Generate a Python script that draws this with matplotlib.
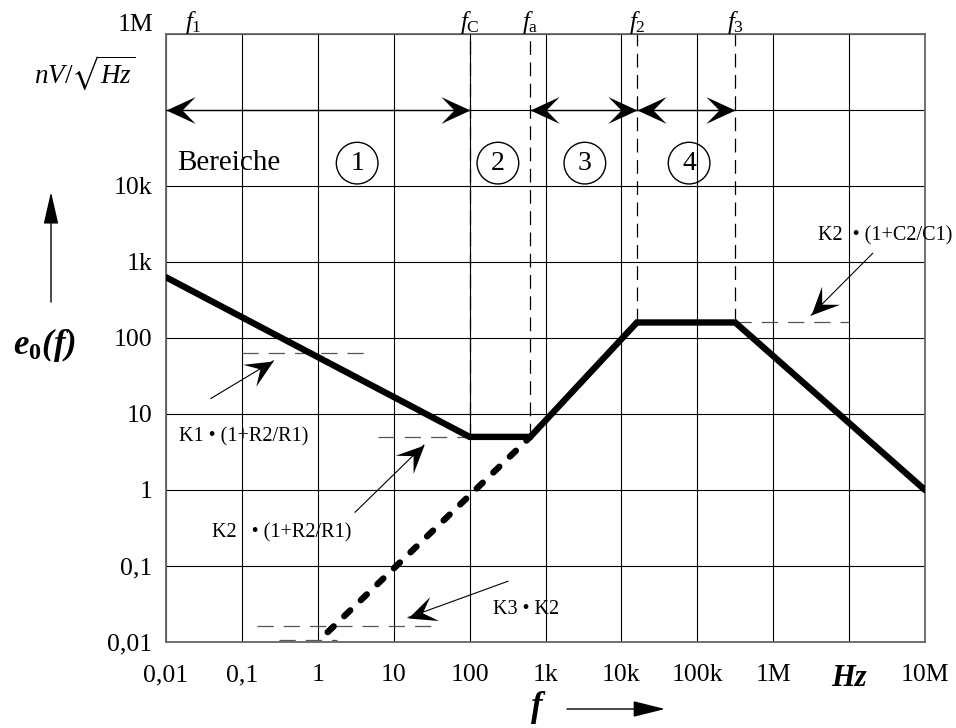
"""Noise density e0(f) sketch: Bereiche 1-4 with corner frequencies (log-log)."""

import matplotlib

matplotlib.use("Agg")
import matplotlib.pyplot as plt
import numpy as np
from matplotlib.markers import MarkerStyle
from matplotlib.path import Path
from matplotlib.transforms import Affine2D

plt.rcParams["font.family"] = ["Liberation Serif", "DejaVu Serif"]
plt.rcParams["mathtext.fontset"] = "custom"
plt.rcParams["mathtext.rm"] = "Liberation Serif"
plt.rcParams["mathtext.it"] = "Liberation Serif:italic"
plt.rcParams["mathtext.bf"] = "Liberation Serif:bold"
plt.rcParams["mathtext.bfit"] = "Liberation Serif:bold:italic"
plt.rcParams["mathtext.fallback"] = "stix"

# axis decades and labels as printed
X_TICKS = [1e-2, 1e-1, 1, 1e1, 1e2, 1e3, 1e4, 1e5, 1e6, 1e7, 1e8]
X_LABELS = ["0,01", "0,1", "1", "10", "100", "1k", "10k", "100k", "1M", "Hz", "10M"]
Y_TICKS = [1e-2, 1e-1, 1, 1e1, 1e2, 1e3, 1e4, 1e5, 1e6]
Y_LABELS = ["0,01", "0,1", "1", "10", "100", "1k", "10k", "", ""]

# corner frequencies (Hz)
FREQ_NAMES = [r"$f_1$", r"$f_\mathrm{C}$", r"$f_\mathrm{a}$", r"$f_2$", r"$f_3$"]
FREQ_LABEL_X = [0.023, 100, 630, 16000, 316000]
MARK_F = [100, 630, 16000, 316000]
MARK_E = [5, 5, 160, 160]

# e0(f) curve
CURVE_F = [0.01, 100, 630, 16000, 316000, 1e8]
CURVE_E = [630, 5, 5, 160, 160, 1]

# dashed extension of the rising slope
EXT_F = [1.35, 630]
EXT_E = [0.0135, 5]

# thin dashed helper levels
LEVEL_F0 = [0.1, 6.2, 0.16, 316000, 0.31]
LEVEL_F1 = [5, 100, 33, 1e7, 1.8]
LEVEL_E = [63, 5, 0.016, 160, 0.0105]

# region arrows at 100k
REGION_Y = 1e5
REGION_F0 = [0.01, 630, 16000]
REGION_F1 = [100, 16000, 316000]
REGION_NAMES = ["1", "2", "3", "4"]
REGION_NAME_F = [3.3, 236, 3300, 78000]
REGION_NAME_E = 2e4

# notes and their pointer arrows
NOTE_TEXT = ["K1 • (1+R2/R1)", "K2   • (1+R2/R1)", "K3 • K2", "K2  • (1+C2/C1)"]
NOTE_F = [0.015, 0.04, 204, 10 ** 6.59]
NOTE_E = [5, 0.27, 0.027, 2200]
ARROW_TAIL_F = [0.039, 3.1, 320, 10 ** 7.31]
ARROW_TAIL_E = [16, 0.51, 0.063, 1300]
ARROW_HEAD_F = [0.26, 25, 15.5, 10 ** 6.5]
ARROW_HEAD_E = [50, 3.9, 0.021, 200]

STEALTH = Path(
    [(0, 0), (-1, 0.46), (-0.55, 0), (-1, -0.46), (0, 0)],
    [Path.MOVETO, Path.LINETO, Path.LINETO, Path.LINETO, Path.CLOSEPOLY],
)


def head(ax, tail, tip, size=42):
    p0 = ax.transData.transform(tail)
    p1 = ax.transData.transform(tip)
    ang = np.degrees(np.arctan2(p1[1] - p0[1], p1[0] - p0[0]))
    m = MarkerStyle(STEALTH, transform=Affine2D().rotate_deg(ang))
    ax.plot([tip[0]], [tip[1]], marker=m, ms=size, mew=0, color="black",
            clip_on=False, zorder=6)


def main() -> None:
    fig = plt.figure(figsize=(9.56, 7.28), dpi=100)
    ax = fig.add_axes([166 / 956, 1 - 642 / 728, (925 - 166) / 956, (642 - 34) / 728])
    ax.set_xscale("log")
    ax.set_yscale("log")
    ax.set_xlim(1e-2, 1e8)
    ax.set_ylim(1e-2, 1e6)
    ax.set_xticks(X_TICKS)
    ax.set_xticklabels(X_LABELS, fontsize=18.5)
    ax.set_yticks(Y_TICKS)
    ax.set_yticklabels(Y_LABELS, fontsize=18.5)
    ax.minorticks_off()
    ax.tick_params(length=0)
    ax.tick_params(axis="x", pad=16)
    ax.tick_params(axis="y", pad=10)
    hz = ax.get_xticklabels()[9]
    hz.set_fontstyle("italic")
    hz.set_fontweight("bold")
    hz.set_fontsize(22)
    hz.set_x(1.25e7)
    ax.grid(True, color="black", linewidth=0.8, zorder=0)
    ax.set_axisbelow(True)
    for side in ax.spines.values():
        side.set_color("#666666")
        side.set_linewidth(1.3)

    # y label for the top decade sits above the frame
    ax.text(-0.017, 1.005, "1M", transform=ax.transAxes, ha="right", va="baseline",
            fontsize=18.5)

    # corner frequency markers
    ax.vlines(MARK_F, MARK_E, 1e6, colors="black", linewidth=0.9,
              linestyles=(0, (11, 6)), zorder=2)
    for name, fx in zip(FREQ_NAMES, FREQ_LABEL_X):
        ax.text(fx, 10 ** 6.07, name, ha="center", va="baseline", fontsize=18,
                clip_on=False)

    # thin dashed helper levels
    for f0, f1, e in zip(LEVEL_F0, LEVEL_F1, LEVEL_E):
        ax.plot([f0, f1], [e, e], color="#555555", linewidth=0.9,
                dashes=(13, 8), clip_on=False, zorder=2)

    # e0(f)
    ax.plot(CURVE_F, CURVE_E, color="black", linewidth=4.6,
            solid_capstyle="round", solid_joinstyle="miter", zorder=4)
    ax.plot(EXT_F, EXT_E, color="black", linewidth=4.6, dashes=(1.3, 2.3),
            dash_capstyle="round", zorder=4)

    # regions
    for f0, f1 in zip(REGION_F0, REGION_F1):
        ax.plot([f0, f1], [REGION_Y, REGION_Y], color="black", linewidth=1.0, zorder=3)
        head(ax, (f1, REGION_Y), (f0, REGION_Y))
        head(ax, (f0, REGION_Y), (f1, REGION_Y))
    ax.text(0.014, REGION_NAME_E, "Bereiche", ha="left", va="center", fontsize=21)
    for name, fx in zip(REGION_NAMES, REGION_NAME_F):
        ax.text(fx, REGION_NAME_E, name, ha="center", va="center", fontsize=20,
                bbox=dict(boxstyle="circle,pad=0.3", fc="none", ec="black", lw=1.0))

    # notes
    for txt, fx, ey in zip(NOTE_TEXT, NOTE_F, NOTE_E):
        ax.text(fx, ey, txt, ha="left", va="center", fontsize=14.5, clip_on=False)
    for tf, te, hf, he in zip(ARROW_TAIL_F, ARROW_TAIL_E, ARROW_HEAD_F, ARROW_HEAD_E):
        ax.plot([tf, hf], [te, he], color="black", linewidth=0.8, zorder=5)
        head(ax, (tf, te), (hf, he), size=40)

    # axis names
    fig.text(85 / 956, 1 - 73 / 728, r"$nV/\sqrt{Hz}$", ha="center", va="center",
             fontsize=19.5)
    fig.text(45 / 956, 1 - 345 / 728, r"$\mathbfit{e}_{\mathbf{0}}\mathbfit{(f)}$",
             ha="center", va="center", fontsize=25)
    fig.text(537 / 956, 1 - 708 / 728, "f", ha="center", va="center", fontsize=25,
             fontstyle="italic", fontweight="bold")
    ax.annotate("", xy=(51 / 956, 1 - 192 / 728), xytext=(51 / 956, 1 - 302 / 728),
                xycoords="figure fraction", textcoords="figure fraction",
                arrowprops=dict(arrowstyle="-|>,head_length=1.0,head_width=0.23",
                                mutation_scale=20, color="black", lw=1.0,
                                shrinkA=0, shrinkB=0))
    ax.annotate("", xy=(665 / 956, 1 - 709 / 728), xytext=(567 / 956, 1 - 709 / 728),
                xycoords="figure fraction", textcoords="figure fraction",
                arrowprops=dict(arrowstyle="-|>,head_length=1.0,head_width=0.25",
                                mutation_scale=20, color="black", lw=1.0,
                                shrinkA=0, shrinkB=0))

    fig.savefig("out.png", dpi=100)
    plt.close(fig)


if __name__ == "__main__":
    main()
